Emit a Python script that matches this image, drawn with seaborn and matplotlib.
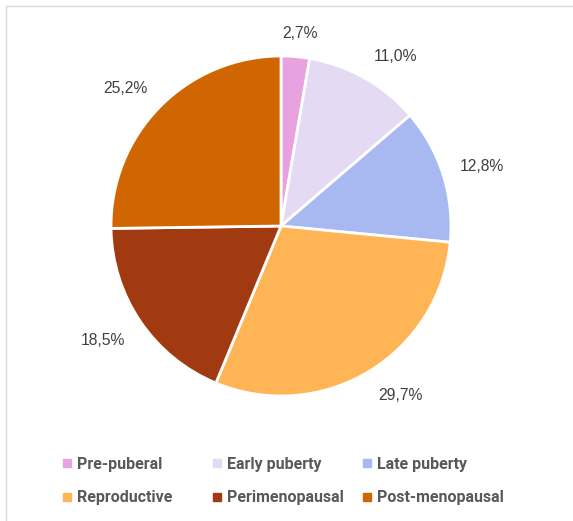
import matplotlib
matplotlib.use("Agg")
import matplotlib.pyplot as plt
from matplotlib import font_manager
from matplotlib.lines import Line2D
import numpy as np
import seaborn as sns

categories = ["Pre-puberal", "Early puberty", "Late puberty",
              "Reproductive", "Perimenopausal", "Post-menopausal"]
values = [2.7, 11.0, 12.8, 29.7, 18.5, 25.2]
colors = ["#E8A2E0", "#E4DAF4", "#A8B9F2", "#FFB555", "#A13A10", "#CF6601"]

sns.set_theme(style="white")
names = {f.name for f in font_manager.fontManager.ttflist}
narrow = "Liberation Sans Narrow" if "Liberation Sans Narrow" in names else "Roboto"
plt.rcParams['font.family'] = ["DejaVu Sans"]

W, H = 573, 521
fig = plt.figure(figsize=(W / 100, H / 100), dpi=100)
fig.patch.set_facecolor("white")

cx, cy, R = 281, 226, 170
lim = 1.3
size = 2 * lim * R
ax = fig.add_axes([(cx - size / 2) / W, (H - cy - size / 2) / H, size / W, size / H])

pal = sns.color_palette(colors)
wedges, texts = ax.pie(values, colors=pal, startangle=90, counterclock=False,
                       labels=[f"{v:.1f}%".replace(".", ",") for v in values],
                       labeldistance=1.17,
                       wedgeprops=dict(edgecolor="white", linewidth=2),
                       textprops=dict(fontsize=11.3, color="#404040",
                                      family="Liberation Sans"))
ax.set_xlim(-lim, lim)
ax.set_ylim(-lim, lim)
ax.set_aspect("equal")
ax.axis("off")

# "outside end" placement: label box corner sits just outside the rim
fig.canvas.draw()
renderer = fig.canvas.get_renderer()
r0 = 188.0
for w, t in zip(wedges, texts):
    bb = t.get_window_extent(renderer)
    hw, hh = bb.width / 2, 7.0
    ang = np.deg2rad((w.theta1 + w.theta2) / 2)
    c, s = np.cos(ang), np.sin(ang)
    px = r0 * c + hw * np.clip(2 * c, -1, 1)
    py = r0 * s + hh * np.clip(2 * s, -1, 1)
    t.set_position((px / R, py / R))
    t.set_horizontalalignment("center")
    t.set_verticalalignment("center_baseline")

# legends: three columns, two rows (row-major order as in the reference)
col_x = [54, 204, 354]
for c in range(3):
    idx = [c, c + 3]
    handles = [Line2D([], [], marker="s", linestyle="none", markersize=5.5,
                      markerfacecolor=colors[i], markeredgecolor=colors[i]) for i in idx]
    leg = fig.legend(handles, [categories[i] for i in idx],
                     loc="upper left", bbox_to_anchor=(col_x[c] / W, 1 - 449 / H),
                     frameon=False, handlelength=0.6, handletextpad=0.35,
                     labelspacing=1.15, borderpad=0,
                     prop=dict(family=narrow, weight="bold", size=11.5))
    for t in leg.get_texts():
        t.set_color("#595959")

# chart border (top and left visible)
fig.add_artist(Line2D([6 / W, 1], [1 - 6 / H, 1 - 6 / H], transform=fig.transFigure,
                      color="#D9D9D9", linewidth=1))
fig.add_artist(Line2D([6 / W, 6 / W], [0, 1 - 6 / H], transform=fig.transFigure,
                      color="#D9D9D9", linewidth=1))

fig.savefig("out.png", dpi=100, facecolor="white")
